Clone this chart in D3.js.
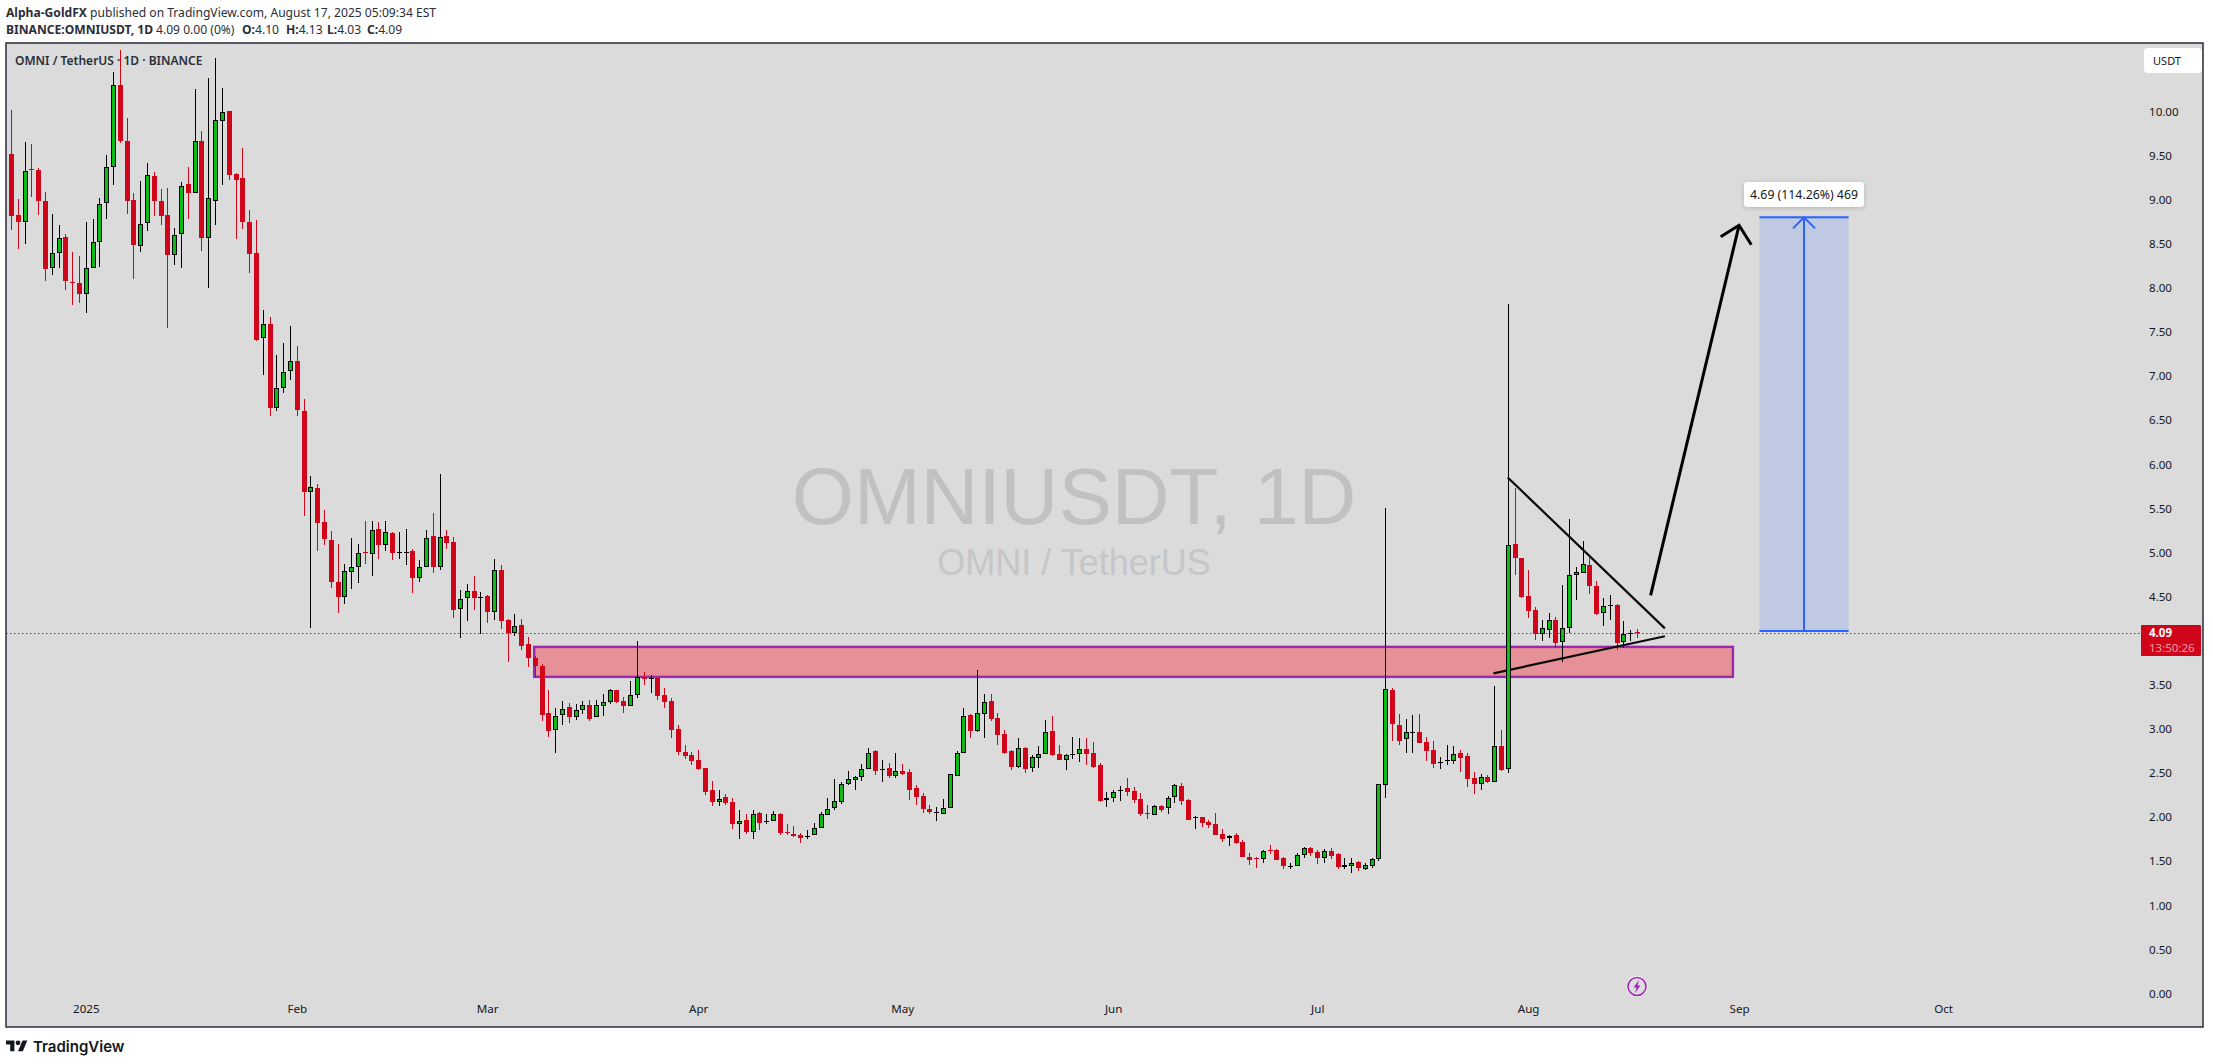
<!DOCTYPE html>
<html>
<head>
<meta charset="utf-8">
<script src="https://cdn.jsdelivr.net/npm/d3@7"></script>
<style>
  html, body { margin: 0; padding: 0; background: #fff; overflow: hidden; }
  text { font-family: "Noto Sans", sans-serif; }
</style>
</head>
<body>
<div id="chart"></div>
<script>
// daily OMNIUSDT candles (bar 0 = Dec 21 2024, bar 239 = Aug 17 2025)
var opens = [
  9.52,8.83,8.75,9.35,9.34,8.98,8.22,8.40,8.58,8.07, 8.05,7.93,8.22,8.52,8.96,9.37,10.30,9.67,9.00,8.48,
  8.74,9.27,8.98,8.83,8.37,8.61,9.18,9.08,9.67,8.57, 8.99,9.89,10.01,9.29,9.25,8.75,8.40,7.43,7.59,6.64,
  6.87,7.06,7.17,6.60,5.69,5.73,5.35,5.14,4.67,4.50, 4.78,4.84,5.01,4.98,5.27,5.09,5.22,5.00,5.01,5.02,
  4.71,4.83,5.19,4.84,5.19,5.12,4.36,4.48,4.56,4.49, 4.51,4.33,4.80,4.23,4.09,4.18,3.96,3.80,3.71,3.18,
  2.99,3.16,3.25,3.14,3.21,3.27,3.13,3.26,3.31,3.44, 3.32,3.26,3.39,3.59,3.58,3.58,3.38,3.32,3.00,2.74,
  2.70,2.65,2.56,2.31,2.17,2.23,2.17,1.92,1.97,1.83, 2.05,1.94,1.96,2.03,1.83,1.81,1.80,1.77,1.80,1.88,
  2.02,2.10,2.17,2.38,2.42,2.45,2.55,2.75,2.53,2.56, 2.47,2.52,2.51,2.33,2.24,2.09,2.06,2.04,2.10,2.47,
  2.73,3.16,2.98,3.17,3.32,3.12,2.94,2.75,2.57,2.78, 2.56,2.67,2.71,2.98,2.71,2.65,2.70,2.72,2.77,2.73,
  2.59,2.19,2.22,2.31,2.33,2.30,2.21,2.05,2.02,2.13, 2.10,2.23,2.35,2.19,2.00,2.00,1.94,1.92,1.81,1.76,
  1.80,1.72,1.55,1.54,1.52,1.63,1.63,1.54,1.45,1.45, 1.57,1.65,1.60,1.54,1.62,1.58,1.43,1.45,1.49,1.41,
  1.45,1.53,2.36,3.44,3.04,2.88,2.97,2.96,2.85,2.76, 2.62,2.65,2.64,2.73,2.69,2.44,2.38,2.45,2.40,2.81,
  2.54,5.10,4.94,4.51,4.35,4.08,4.12,4.23,3.99,4.14, 4.74,4.77,4.86,4.62,4.31,4.40,4.40,3.98,4.09,4.10
];
var highs = [
  10.02,9.01,9.65,9.63,9.36,9.09,8.84,8.71,8.61,8.41, 8.36,8.75,8.78,9.02,9.51,10.45,10.70,9.93,9.08,9.21,
  9.42,9.31,9.12,9.13,8.68,9.20,9.37,10.25,9.78,10.38, 10.61,10.27,10.01,9.30,9.59,8.88,8.77,7.75,7.67,7.24,
  7.38,7.57,7.34,6.74,5.87,5.78,5.48,5.24,5.10,4.87, 5.16,5.10,5.36,5.36,5.35,5.36,5.23,5.23,5.27,5.04,
  4.91,5.25,5.45,5.89,5.25,5.18,4.57,4.64,4.73,4.55, 4.52,4.93,4.86,4.25,4.30,4.25,4.04,3.83,3.74,3.44,
  3.24,3.32,3.29,3.28,3.32,3.33,3.33,3.40,3.45,3.44, 3.36,3.54,4.00,3.64,3.61,3.59,3.46,3.35,3.04,2.82,
  2.74,2.76,2.56,2.41,2.31,2.26,2.22,2.08,2.03,2.08, 2.06,2.03,2.07,2.05,1.92,1.90,1.82,1.85,1.93,2.06,
  2.22,2.43,2.40,2.52,2.47,2.60,2.78,2.76,2.65,2.61, 2.73,2.60,2.54,2.36,2.27,2.14,2.11,2.20,2.49,2.75,
  3.24,3.17,3.67,3.40,3.40,3.18,2.99,2.76,2.90,2.79, 2.70,2.81,3.10,3.15,2.82,2.72,2.91,2.90,2.90,2.85,
  2.61,2.28,2.31,2.35,2.44,2.34,2.27,2.14,2.14,2.14, 2.24,2.37,2.39,2.21,2.01,2.00,1.97,2.05,1.87,1.80,
  1.82,1.74,1.59,1.55,1.63,1.68,1.64,1.55,1.48,1.59, 1.66,1.66,1.63,1.64,1.65,1.59,1.54,1.54,1.50,1.48,
  1.54,2.38,5.50,3.46,3.17,3.11,3.16,3.17,2.91,2.86, 2.68,2.82,2.81,2.76,2.73,2.51,2.49,2.48,3.49,2.99,
  7.82,5.73,4.94,4.80,4.38,4.23,4.31,4.27,4.63,5.38, 4.84,5.13,4.94,4.68,4.48,4.52,4.42,4.22,4.12,4.13
];
var lows = [
  8.66,8.44,8.50,9.03,8.83,8.08,8.15,8.23,7.98,7.81, 7.83,7.72,8.22,8.24,8.78,9.17,9.64,8.84,8.10,8.41,
  8.65,8.82,8.71,7.54,8.26,8.22,8.78,9.08,8.42,8.00, 8.71,9.17,9.22,8.55,8.67,8.17,7.40,7.01,6.55,6.60,
  6.81,6.96,6.55,5.41,4.14,5.02,5.09,4.60,4.31,4.42, 4.59,4.65,4.87,4.73,4.93,5.02,4.91,4.93,4.86,4.54,
  4.66,4.83,4.77,4.80,5.04,4.26,4.03,4.22,4.35,4.08, 4.20,4.23,4.13,3.76,4.05,3.89,3.70,3.59,3.09,2.91,
  2.73,3.04,3.07,3.10,3.17,3.09,3.13,3.15,3.28,3.29, 3.18,3.26,3.35,3.50,3.41,3.33,3.24,2.90,2.70,2.66,
  2.59,2.53,2.25,2.13,2.13,2.14,1.87,1.75,1.81,1.75, 1.85,1.92,1.96,1.80,1.80,1.77,1.71,1.75,1.80,1.88,
  2.02,2.08,2.15,2.36,2.31,2.41,2.55,2.48,2.40,2.44, 2.44,2.48,2.19,2.14,2.05,2.03,1.96,2.04,2.10,2.47,
  2.73,2.90,2.96,2.90,3.09,2.82,2.72,2.53,2.56,2.50, 2.51,2.56,2.71,2.69,2.65,2.53,2.66,2.62,2.59,2.56,
  2.17,2.11,2.17,2.18,2.24,2.16,2.01,1.98,2.02,2.06, 2.03,2.16,2.14,1.97,1.87,1.89,1.88,1.80,1.72,1.67,
  1.69,1.55,1.46,1.42,1.48,1.58,1.51,1.41,1.41,1.45, 1.54,1.56,1.47,1.48,1.53,1.41,1.41,1.37,1.39,1.40,
  1.42,1.50,2.22,2.86,2.82,2.73,2.73,2.84,2.64,2.56, 2.55,2.59,2.60,2.51,2.34,2.26,2.31,2.39,2.40,2.52,
  2.50,4.75,4.48,4.26,4.01,4.00,4.03,3.92,3.76,4.09, 4.46,4.77,4.53,4.29,4.17,4.23,3.89,3.92,4.00,4.03
];
var closes = [
  8.81,8.75,9.33,9.34,8.98,8.21,8.40,8.57,8.08,8.06, 7.93,8.22,8.52,8.95,9.37,10.30,9.67,8.98,8.49,8.73,
  9.28,8.98,8.82,8.37,8.60,9.16,9.08,9.66,8.57,9.02, 9.90,10.00,9.28,9.22,8.75,8.39,7.41,7.59,6.64,6.87,
  7.05,7.17,6.61,5.69,5.74,5.34,5.15,4.66,4.50,4.79, 4.84,5.00,5.00,5.26,5.09,5.23,5.00,5.01,5.01,4.71,
  4.83,5.17,4.84,5.18,5.11,4.35,4.47,4.56,4.48,4.49, 4.33,4.80,4.22,4.09,4.17,3.94,3.80,3.71,3.16,2.98,
  3.15,3.23,3.13,3.21,3.27,3.11,3.27,3.31,3.44,3.30, 3.26,3.38,3.59,3.57,3.58,3.37,3.30,2.99,2.74,2.69,
  2.64,2.54,2.28,2.17,2.21,2.16,1.92,1.96,1.83,2.04, 1.93,1.96,2.03,1.82,1.82,1.79,1.76,1.79,1.88,2.03,
  2.09,2.18,2.38,2.43,2.45,2.55,2.73,2.52,2.55,2.47, 2.52,2.49,2.31,2.23,2.09,2.06,2.06,2.10,2.49,2.73,
  3.15,2.98,3.18,3.31,3.11,2.93,2.73,2.57,2.78,2.54, 2.68,2.71,2.97,2.70,2.65,2.70,2.72,2.77,2.72,2.57,
  2.18,2.22,2.29,2.31,2.28,2.19,2.03,2.03,2.13,2.08, 2.22,2.36,2.18,1.97,2.00,1.93,1.91,1.80,1.75,1.79,
  1.71,1.55,1.51,1.53,1.62,1.62,1.51,1.45,1.45,1.57, 1.65,1.59,1.54,1.61,1.56,1.43,1.46,1.48,1.42,1.46,
  1.53,2.37,3.45,3.05,2.86,2.96,2.97,2.84,2.75,2.60, 2.62,2.65,2.72,2.67,2.43,2.38,2.45,2.40,2.81,2.53,
  5.09,4.94,4.50,4.34,4.08,4.14,4.24,3.97,4.14,4.74, 4.78,4.87,4.62,4.30,4.39,4.40,3.97,4.08,4.09,4.09
];

// axis labels (4.00 sits under the price tag, so the picture does not show it)
var monthBars = [11, 42, 70, 101, 131, 162, 192, 223, 254, 284];
var monthLabels = ["2025", "Feb", "Mar", "Apr", "May", "Jun", "Jul", "Aug", "Sep", "Oct"];
var priceTicks = [0, 0.5, 1, 1.5, 2, 2.5, 3, 3.5, 4.5, 5, 5.5, 6, 6.5, 7, 7.5, 8, 8.5, 9, 9.5, 10];

// drawings, in bar number / price
var lastPrice = 4.09;
var zoneBars = [76.9, 253.1];
var zonePrices = [3.93, 3.59];
var upperLine = [[220, 5.85], [243.1, 4.14]];
var lowerLine = [[217.9, 3.63], [243.1, 4.05]];
var bigArrow = [[241, 4.515], [254, 8.71]];
var bigArrowHead = [[251.3, 8.58], [254, 8.71], [255.8, 8.49]];
var targetBars = [257, 270.1];
var targetPrices = [4.11, 8.80];

var width = 2213, height = 1064;
var panel = { left: 6, top: 43, right: 2203, bottom: 1027 };

var svg = d3.select("#chart").append("svg")
  .attr("width", width)
  .attr("height", height)
  .style("display", "block");

var x = d3.scaleLinear().domain([0, 239]).range([11, 1637]);
var y = d3.scaleLinear().domain([0, 10]).range([993.5, 111.5]);

// pixel snapped helpers so the candles stay crisp
var px = function(i) { return Math.round(x(i)) + 0.5; };
var py = function(p) { return Math.round(y(p)); };
var line = d3.line().x(function(d) { return x(d[0]); }).y(function(d) { return y(d[1]); });

svg.append("rect")
  .attr("x", panel.left).attr("y", panel.top)
  .attr("width", panel.right - panel.left).attr("height", panel.bottom - panel.top)
  .attr("fill", "#dbdbdb");

svg.append("defs").append("clipPath").attr("id", "pane").append("rect")
  .attr("x", panel.left).attr("y", panel.top)
  .attr("width", panel.right - panel.left).attr("height", panel.bottom - panel.top);

// watermark
svg.append("text").text("OMNIUSDT, 1D")
  .attr("x", 1074).attr("y", 524).attr("text-anchor", "middle")
  .style("font-family", "'Liberation Sans'").style("font-size", "80px").attr("fill", "#bfc1c3");
svg.append("text").text("OMNI / TetherUS")
  .attr("x", 1074).attr("y", 575).attr("text-anchor", "middle")
  .style("font-family", "'Liberation Sans'").style("font-size", "36px").attr("fill", "#c4c6c8");

// axes
var yAxis = d3.axisRight(y).tickValues(priceTicks).tickSize(0).tickPadding(0).tickFormat(d3.format(".2f"));
var yG = svg.append("g").attr("transform", "translate(2149,0)").call(yAxis);
yG.select(".domain").remove();
yG.selectAll("text").style("font-size", "11.6px").style("font-family", "'Noto Sans'").attr("fill", "#131722");

var xAxis = d3.axisBottom(x).tickValues(monthBars).tickSize(0).tickPadding(0)
  .tickFormat(function(d, i) { return monthLabels[i]; });
var xG = svg.append("g").attr("transform", "translate(0,1005)").call(xAxis);
xG.select(".domain").remove();
xG.selectAll("text").style("font-size", "11.6px").style("font-family", "'Noto Sans'").attr("fill", "#131722");

var pane = svg.append("g").attr("clip-path", "url(#pane)");

// last price line
pane.append("line")
  .attr("x1", panel.left).attr("x2", 2141)
  .attr("y1", py(lastPrice) + 0.5).attr("y2", py(lastPrice) + 0.5)
  .attr("stroke", "#d10a1e").attr("stroke-width", 1).attr("stroke-dasharray", "1.5,2.5");

// demand zone
pane.append("rect")
  .attr("x", x(zoneBars[0])).attr("y", y(zonePrices[0]))
  .attr("width", x(zoneBars[1]) - x(zoneBars[0]))
  .attr("height", y(zonePrices[1]) - y(zonePrices[0]))
  .attr("fill", "#e69198").attr("stroke", "#9c27b0").attr("stroke-width", 2.4);

// target box
pane.append("rect")
  .attr("x", x(targetBars[0])).attr("y", y(targetPrices[1]))
  .attr("width", x(targetBars[1]) - x(targetBars[0]))
  .attr("height", y(targetPrices[0]) - y(targetPrices[1]))
  .attr("fill", "#bfc9e1");
targetPrices.forEach(function(p) {
  pane.append("line")
    .attr("x1", x(targetBars[0])).attr("x2", x(targetBars[1]))
    .attr("y1", y(p)).attr("y2", y(p))
    .attr("stroke", "#2962ff").attr("stroke-width", 2);
});
var midBar = (targetBars[0] + targetBars[1]) / 2;
pane.append("line")
  .attr("x1", x(midBar)).attr("x2", x(midBar))
  .attr("y1", y(targetPrices[0])).attr("y2", y(targetPrices[1]))
  .attr("stroke", "#2962ff").attr("stroke-width", 2);
pane.append("path")
  .attr("d", "M" + (x(midBar) - 11) + "," + (y(targetPrices[1]) + 11) + "L" + x(midBar) + "," + y(targetPrices[1]) + "L" + (x(midBar) + 11) + "," + (y(targetPrices[1]) + 11))
  .attr("fill", "none").attr("stroke", "#2962ff").attr("stroke-width", 2);

// candles
var bars = d3.range(opens.length).map(function(i) {
  return { i: i, o: opens[i], h: highs[i], l: lows[i], c: closes[i] };
});
var up = function(d) { return d.c >= d.o; };

var candles = pane.append("g").selectAll("g").data(bars).enter().append("g");
candles.append("line")
  .attr("x1", function(d) { return px(d.i); })
  .attr("x2", function(d) { return px(d.i); })
  .attr("y1", function(d) { return py(d.h); })
  .attr("y2", function(d) { return py(d.l); })
  .attr("stroke", function(d) { return up(d) ? "#000000" : "#d10519"; })
  .attr("stroke-width", 1)
  .attr("shape-rendering", "crispEdges");
candles.append("rect")
  .attr("x", function(d) { return px(d.i) - 2; })
  .attr("width", 4)
  .attr("y", function(d) { return py(Math.max(d.o, d.c)) + 0.5; })
  .attr("height", function(d) { return Math.max(py(Math.min(d.o, d.c)) - py(Math.max(d.o, d.c)) - 1, 0.01); })
  .attr("fill", function(d) { return up(d) ? "#0cbc12" : "#d10519"; })
  .attr("stroke", function(d) { return up(d) ? "#000000" : "#d10519"; })
  .attr("stroke-width", 1)
  .attr("shape-rendering", "crispEdges");

// trend lines and the big arrow
pane.append("path").attr("d", line(upperLine)).attr("fill", "none").attr("stroke", "#0a0a0a").attr("stroke-width", 2.2);
pane.append("path").attr("d", line(lowerLine)).attr("fill", "none").attr("stroke", "#0a0a0a").attr("stroke-width", 2.2);
pane.append("path").attr("d", line(bigArrow)).attr("fill", "none").attr("stroke", "#000000").attr("stroke-width", 3);
pane.append("path").attr("d", line(bigArrowHead)).attr("fill", "none").attr("stroke", "#000000").attr("stroke-width", 3);

// redraw the tall green candle over the lower trend line
var tall = bars[220];
pane.append("rect")
  .attr("x", px(tall.i) - 2).attr("width", 4)
  .attr("y", py(tall.c) + 0.5).attr("height", py(tall.o) - py(tall.c) - 1)
  .attr("fill", "#0cbc12").attr("stroke", "#000000").attr("shape-rendering", "crispEdges");

// measure label
svg.append("rect")
  .attr("x", 1744).attr("y", 182).attr("width", 120).attr("height", 25).attr("rx", 3)
  .attr("fill", "#ffffff").style("filter", "drop-shadow(0 1px 2px rgba(0,0,0,0.18))");
svg.append("text").text("4.69 (114.26%) 469")
  .attr("x", 1804).attr("y", 198.5).attr("text-anchor", "middle")
  .style("font-size", "12.3px").attr("fill", "#131722");

// price tag
svg.append("rect").attr("x", 2141).attr("y", 625).attr("width", 60).attr("height", 31).attr("rx", 1).attr("fill", "#d10519");
svg.append("text").text("4.09").attr("x", 2149).attr("y", 637)
  .style("font-size", "11.5px").style("font-weight", 700).attr("fill", "#ffffff");
svg.append("text").text("13:50:26").attr("x", 2149).attr("y", 652)
  .style("font-size", "11.5px").attr("fill", "#ef9aa4");

// USDT badge
svg.append("rect").attr("x", 2144).attr("y", 48).attr("width", 58).attr("height", 25).attr("rx", 4)
  .attr("fill", "#ffffff");
svg.append("text").text("USDT").attr("x", 2167).attr("y", 65).attr("text-anchor", "middle")
  .style("font-size", "11px").attr("fill", "#131722");

// flash icon
var flash = svg.append("g").attr("transform", "translate(1637,986.5)");
flash.append("circle").attr("r", 10.5).attr("fill", "#ffffff");
flash.append("circle").attr("r", 9).attr("fill", "#dfdbe0").attr("stroke", "#9c27b0").attr("stroke-width", 1.6);
flash.append("path").attr("d", "M2,-6.5L-3.5,1H-0.5L-2,6.5L3.5,-1H0.5Z").attr("fill", "#9c27b0");

// panel border on top of everything
svg.append("rect")
  .attr("x", panel.left).attr("y", panel.top)
  .attr("width", panel.right - panel.left).attr("height", panel.bottom - panel.top)
  .attr("fill", "none").attr("stroke", "#2a2e39").attr("stroke-width", 1.5);

// header lines
var head1 = svg.append("text").attr("x", 6).attr("y", 17).style("font-size", "12.1px").attr("fill", "#2a2e39");
head1.append("tspan").text("Alpha-GoldFX").style("font-weight", 700);
head1.append("tspan").text(" published on TradingView.com, August 17, 2025 05:09:34 EST");

var head2 = svg.append("text").attr("y", 34).style("font-size", "12.1px").attr("fill", "#2a2e39");
head2.append("tspan").attr("x", 6).text("BINANCE:OMNIUSDT, 1D").style("font-weight", 700);
head2.append("tspan").attr("x", 156).text("4.09 0.00 (0%)");
[["O:", "4.10", 242], ["H:", "4.13", 286], ["L:", "4.03", 327], ["C:", "4.09", 367]].forEach(function(p) {
  head2.append("tspan").attr("x", p[2]).text(p[0]).style("font-weight", 700);
  head2.append("tspan").text(p[1]);
});

svg.append("text").text("OMNI / TetherUS · 1D · BINANCE")
  .attr("x", 15).attr("y", 65)
  .style("font-size", "12px").style("font-weight", 600).attr("fill", "#2a2e39");

// TradingView mark
var logo = svg.append("g").attr("transform", "translate(6,1038) scale(0.6)");
logo.append("path").attr("d", "M14 22H7V11H0V4h14v18zM28 22h-8l7.5-18h8L28 22z").attr("fill", "#131722");
logo.append("circle").attr("cx", 20).attr("cy", 8).attr("r", 4).attr("fill", "#131722");
svg.append("text").text("TradingView")
  .attr("x", 33).attr("y", 1052)
  .style("font-family", "Inter").style("font-size", "15px").style("font-weight", 600).attr("fill", "#131722");
</script>
</body>
</html>
